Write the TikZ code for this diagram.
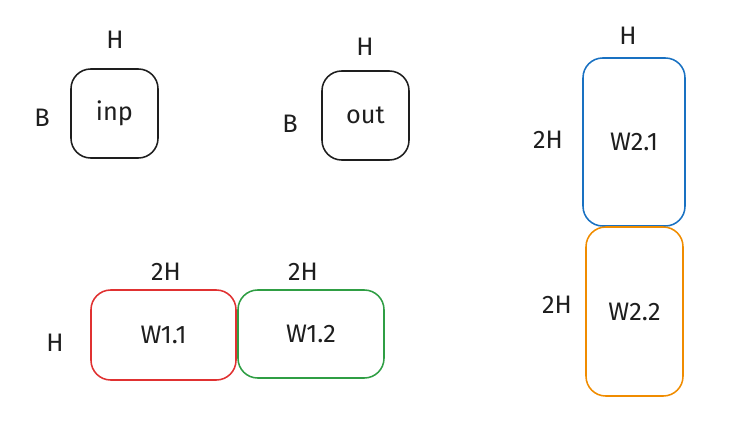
\documentclass[tikz,border=0pt]{standalone}
\usepackage{fontspec}
\setmainfont{Fira Sans}
\usepackage{xcolor}
\usepackage{tikz}
\definecolor{wblue}{HTML}{1971C2}
\definecolor{wred}{HTML}{E03131}
\definecolor{wgreen}{HTML}{2F9E44}
\definecolor{worange}{HTML}{F08C00}
\definecolor{ink}{HTML}{1E1E1E}
\tikzset{
  mat/.style={draw=ink, line width=1.1pt, rounded corners=14pt, inner sep=0pt, text=ink, font=\fontsize{18}{21}\selectfont},
  dim/.style={text=ink, font=\fontsize{18}{21}\selectfont}
}
\begin{document}
\begin{tikzpicture}[x=0.025cm, y=-0.025cm]
        \useasboundingbox (0,0) rectangle (754,440);
        % activations
        \node[mat, minimum width=87*0.025cm, minimum height=89*0.025cm] (inp) at (114.5,113.5) {inp};
        \node[dim] (inpH) at (115,40) {H};
        \node[dim] (inpB) at (42,118) {B};
        \node[mat, minimum width=87*0.025cm, minimum height=89*0.025cm] (out) at (365.5,115.5) {out};
        \node[dim] (outH) at (365,47) {H};
        \node[dim] (outB) at (290,124) {B};
        % first layer weights
        \node[mat, draw=wred, minimum width=145*0.025cm, minimum height=90*0.025cm] (w11) at (163.5,335) {W1.1};
        \node[mat, draw=wgreen, minimum width=146*0.025cm, minimum height=88*0.025cm] (w12) at (311,334) {W1.2};
        \node[dim] (w11W) at (166,272) {2H};
        \node[dim] (w12W) at (303,272) {2H};
        \node[dim] (w1H) at (55,343) {H};
        % second layer weights
        \node[mat, draw=wblue, minimum width=102*0.025cm, minimum height=168*0.025cm] (w21) at (634,142) {W2.1};
        \node[mat, draw=worange, minimum width=97*0.025cm, minimum height=169*0.025cm] (w22) at (634.5,311.5) {W2.2};
        \node[dim] (w2H) at (628,36) {H};
        \node[dim] (w21H) at (548,140) {2H};
        \node[dim] (w22H) at (557,305) {2H};
\end{tikzpicture}
\end{document}
